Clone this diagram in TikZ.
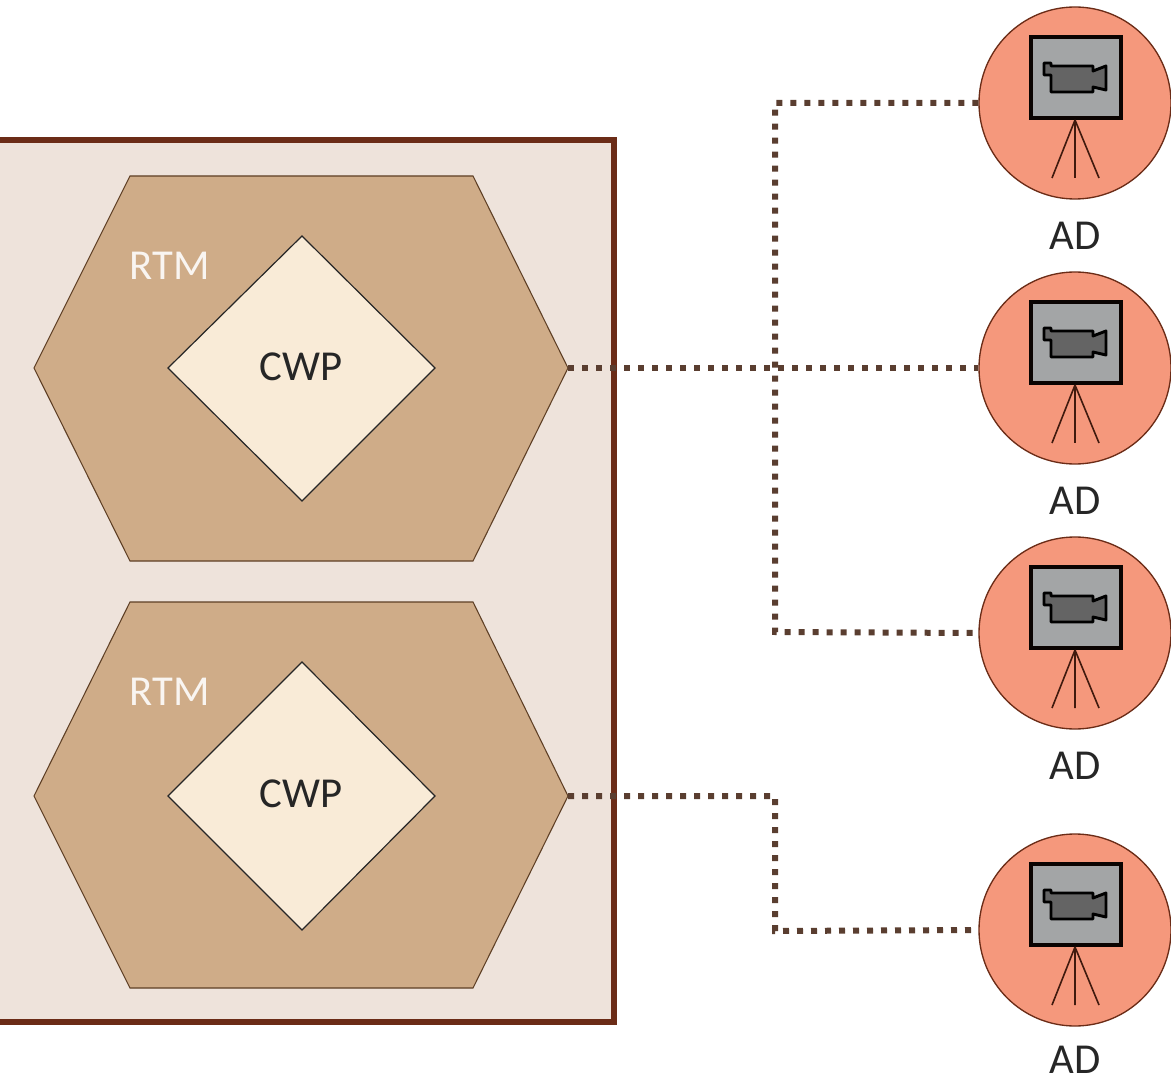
\documentclass[tikz,border=0pt]{standalone}
\usepackage{fontspec}
\setmainfont{Carlito}
\usetikzlibrary{calc}
\definecolor{framec}{HTML}{6B2C17}
\definecolor{panelc}{HTML}{EEE3DB}
\definecolor{hexc}{HTML}{CFAC88}
\definecolor{hexl}{HTML}{5E3F25}
\definecolor{diac}{HTML}{F9EBD7}
\definecolor{salmon}{HTML}{F5987C}
\definecolor{dotc}{HTML}{5A3E30}
\definecolor{camg}{HTML}{A3A5A6}
\definecolor{bodyg}{HTML}{646464}
\tikzset{
  x=0.75pt,y=-0.75pt,
  frame/.style={draw=framec,line width=4.8pt,fill=panelc},
  hexa/.style={draw=hexl,line width=0.8pt,fill=hexc,line join=miter},
  dia/.style={draw=black!85,line width=0.9pt,fill=diac},
  lbl/.style={font=\fontsize{32}{32}\selectfont,text=black!85,inner sep=0pt},
  rtm/.style={font=\fontsize{32}{32}\selectfont,text=white!88!hexc,inner sep=0pt},
  disc/.style={circle,draw=framec,line width=1pt,fill=salmon,minimum size=144pt,inner sep=0pt},
  link/.style={draw=dotc,line width=4.5pt,dash pattern=on 4.5pt off 6pt},
  cambox/.style={draw=black!90!framec,line width=3.4pt,fill=camg},
  cambody/.style={draw=black,line width=2.2pt,fill=bodyg,line join=round},
  leg/.style={draw=framec!60!black,line width=1.2pt},
  pics/camera/.style={code={
    \path[cambox] (-44,-66) rectangle (46,15);
    \path[leg] (0,17) -- (-23,75) (0,17) -- (0,75) (0,17) -- (24,75);
    \path[cambody] (-31,-40) -- (-24,-40) -- (-24,-37) -- (18,-37) -- (18,-32) -- (31,-37) -- (31,-13) -- (18,-16) -- (18,-11) -- (-24,-11) -- (-24,-28) -- (-31,-28) -- cycle;
  }}
}
\begin{document}
\begin{tikzpicture}
\useasboundingbox (0,0) rectangle (1171,1080);
\path[frame] (-10,140) rectangle (614,1022);

\coordinate (hexAtip) at (568,368);
\coordinate (hexBtip) at (568,796);
\path[hexa] (34,368) -- (130,176) -- (473,176) -- (hexAtip) -- (473,561) -- (130,561) -- cycle;
\path[hexa] (34,796) -- (130,602) -- (473,602) -- (hexBtip) -- (473,988) -- (130,988) -- cycle;
\path[dia] (168,368) -- (302,236) -- (435,368) -- (302,501) -- cycle;
\path[dia] (168,796) -- (302,662) -- (435,796) -- (302,930) -- cycle;
\node[lbl] (cwpA) at (301,367) {CWP};
\node[lbl] (cwpB) at (301,794) {CWP};
\node[rtm] (rtmA) at (170,266) {RTM};
\node[rtm] (rtmB) at (170,692) {RTM};

\node[disc] (adA) at (1075,103) {};
\node[disc] (adB) at (1075,368) {};
\node[disc] (adC) at (1075,633) {};
\node[disc] (adD) at (1075,930) {};
\foreach \n in {adA,adB,adC,adD} \pic at (\n) {camera};
\node[lbl] (lblA) at (1075,236) {AD};
\node[lbl] (lblB) at (1075,501) {AD};
\node[lbl] (lblC) at (1075,766) {AD};
\node[lbl] (lblD) at (1075,1060) {AD};

\coordinate (busTop) at (775,103);
\coordinate (busBot) at (775,632);
\coordinate (stepA) at (775,796);
\coordinate (stepB) at (775,931);
\draw[link] (adA.west) -- (busTop) -- (busBot) -- (adC.west);
\draw[link] (hexAtip) -- (adB.west);
\draw[link] (hexBtip) -- (stepA) -- (stepB) -- (adD.west);
\end{tikzpicture}
\end{document}
